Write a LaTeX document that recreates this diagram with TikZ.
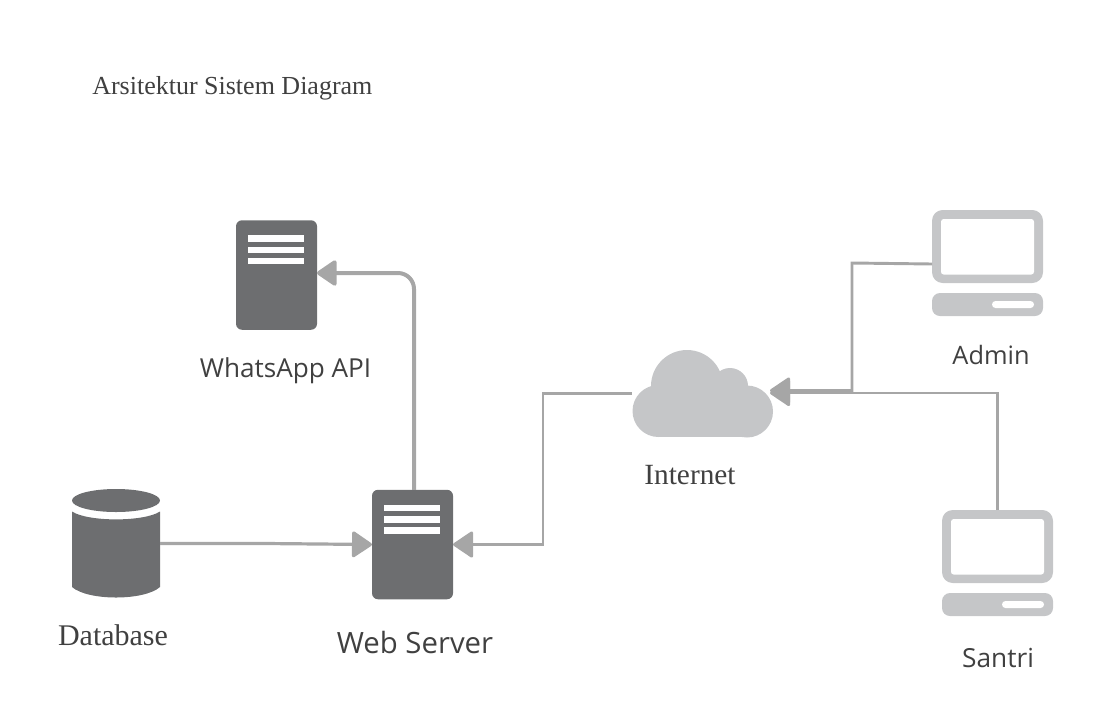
\documentclass[tikz,border=0pt]{standalone}
\usepackage{fontspec}
\setmainfont{Liberation Serif}
\setsansfont{Open Sans}
\usepackage{tikz}
\usetikzlibrary{
  arrows.meta
}
\definecolor{serverGrey}{HTML}{6D6E70}
\definecolor{pcGrey}{HTML}{C5C6C8}
\definecolor{wireGrey}{HTML}{A6A6A6}
\definecolor{labelGrey}{HTML}{404040}
\tikzset{
  px/.style={x=0.75pt,y=-0.75pt},
  icon/.style 2 args={inner sep=0pt,outer sep=0pt,minimum width=#1*0.75pt,minimum height=#2*0.75pt},
  wire/.style={draw=wireGrey,line width=2.4pt,-{Triangle[length=16pt,width=21pt,round]}},
  serverbox/.style={icon={81}{109.5},fill=serverGrey,rounded corners=4.5pt},
  pcbox/.style={icon={111}{73},fill=pcGrey,rounded corners=8pt},
  seriflabel/.style={inner sep=0pt,text=labelGrey,font=\fontsize{#1}{24}\selectfont},
  sanslabel/.style={inner sep=0pt,text=labelGrey,font=\sffamily\fontsize{#1}{24}\selectfont}
}

\begin{document}
\begin{tikzpicture}[px]
\useasboundingbox (0,0) rectangle (1094,715);

% icons
\node[serverbox] (whatsapp) at (276.5,275) {};
\node[serverbox] (webserver) at (412.5,544.5) {};
\node[pcbox] (admin) at (987.5,246.5) {};
\node[pcbox] (santri) at (997.5,546.5) {};
\node[icon={141}{87}] (internet) at (702.5,393.5) {};
\node[icon={88}{109}] (database) at (116,543.5) {};

\foreach \srv in {whatsapp,webserver} {
  \begin{scope}[shift={(\srv.north west)}]
  \foreach \y in {15,26.5,37.5}
    \fill[white] (12,\y) rectangle (68,\y+6.5);
  \end{scope}
}
\foreach \pc in {admin,santri} {
  \begin{scope}[shift={(\pc.north west)}]
  \fill[white,rounded corners=2pt] (9,9) rectangle (102,64.5);
  \fill[pcGrey,rounded corners=6pt] (0,83) rectangle (111,106);
  \fill[white,rounded corners=2.6pt] (60,91) rectangle (102,98);
  \end{scope}
}

% cloud
\begin{scope}[shift={(internet.center)}]
\fill[pcGrey] (-44,17.5) circle[radius=26];
\fill[pcGrey] (44.5,18) circle[radius=26];
\fill[pcGrey] (-15.5,-7.5) circle[radius=36];
\fill[pcGrey] (27.5,-7.5) circle[radius=18];
\fill[pcGrey] (-44,-8) rectangle (44.5,43.5);
\end{scope}

% database
\begin{scope}[shift={(database.north west)}]
\fill[serverGrey] (44,11.5) ellipse[x radius=44,y radius=11.5];
\fill[serverGrey] (0,22.5) .. controls (16,33) and (72,33) .. (88,22.5)
  -- (88,98) .. controls (72,112) and (16,112) .. (0,98) -- cycle;
\end{scope}

\coordinate (adminport) at (932,264);
\coordinate (cloudupper) at (770,390.5);
\coordinate (cloudlower) at (770,393);

% connectors
\draw[wire] (database.east) -- ++(106,0) -- (webserver.west);
\draw[wire,line width=2.2pt] (internet.west) -- (543,393.5) -- (543,544.5) -- (webserver.east);
\draw[wire,line width=3pt,rounded corners=12pt] (webserver.north -| 414,0) -- (414,273) -- (whatsapp.east |- 0,273);
\draw[wire,line width=2.2pt] (adminport) -- (852,263) -- (852,390.5) -- (cloudupper);
\draw[wire,line width=2.2pt] (santri.north) -- (997.5,393) -- (cloudlower);

% labels
\node[seriflabel=19.5,anchor=west] (title) at (92,88) {Arsitektur Sistem Diagram};
\node[sanslabel=19.6] (whatsapplabel) at (285.5,370.5) {WhatsApp API};
\node[sanslabel=22] (webserverlabel) at (415,642) {Web Server};
\node[seriflabel=22.5] (databaselabel) at (113,635) {Database};
\node[seriflabel=22] (internetlabel) at (690,475) {Internet};
\node[sanslabel=19] (adminlabel) at (991,355) {Admin};
\node[sanslabel=19.7] (santrilabel) at (998,658) {Santri};
\end{tikzpicture}
\end{document}
